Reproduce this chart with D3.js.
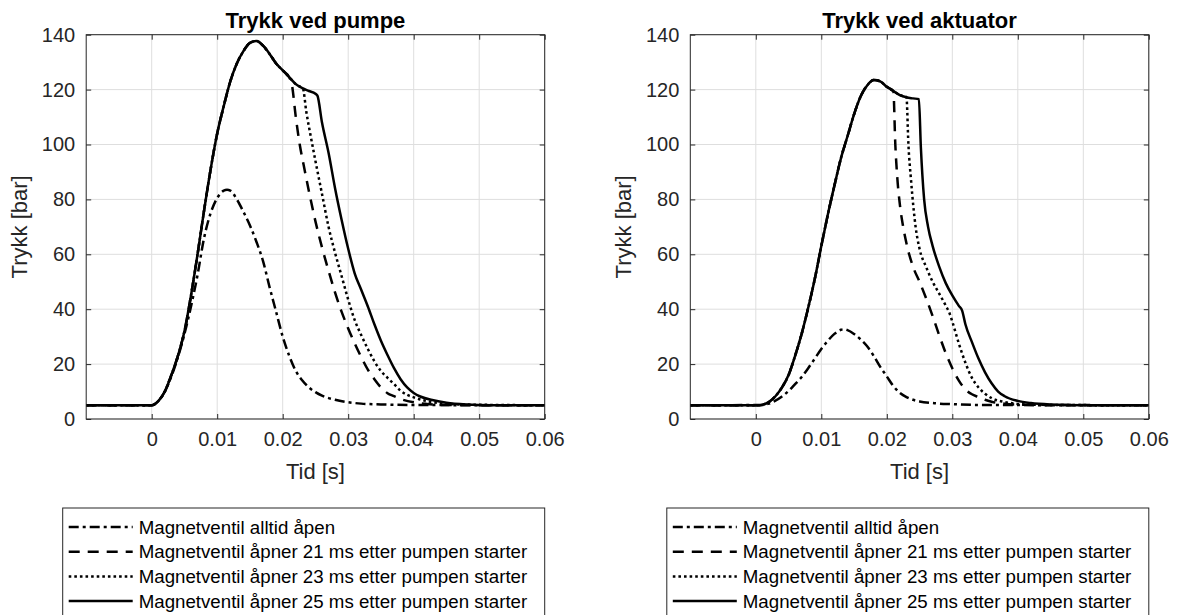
<!DOCTYPE html>
<html>
<head>
<meta charset="utf-8">
<script src="https://cdn.jsdelivr.net/npm/d3@7/dist/d3.min.js"></script>
<style>
  body { margin: 0; background: #fff; }
  svg { display: block; font-family: 'Liberation Sans', Arial, sans-serif; }
</style>
</head>
<body>
<div id="chart"></div>
<script>
// tid i ms, trykk i bar
const xTicks = [0, 0.01, 0.02, 0.03, 0.04, 0.05, 0.06];
const yTicks = [0, 20, 40, 60, 80, 100, 120, 140];
const seriesNames = [
    'Magnetventil alltid åpen',
    'Magnetventil åpner 21 ms etter pumpen starter',
    'Magnetventil åpner 23 ms etter pumpen starter',
    'Magnetventil åpner 25 ms etter pumpen starter'
];

// Trykk ved pumpe
const pumpeOpen = [[-10,5],[0,5],[1,6.5],[2,10],[3,15.5],[4,22.5],[5,31],[6,41],[7,52.5],[8,66],[9,75],[10,80.5],[11,83.2],[11.5,83.5],[12,83.2],[13,80],[14,75.5],[15,70.5],[16,64.5],[17,57.5],[18,48],[19,39],[20,30],[21,23],[22,17.5],[23,14],[24,11.5],[25,9.8],[26,8.5],[28,7],[30,6.1],[32,5.6],[35,5.3],[40,5.1],[60,5]];
const pumpeClosed = [[-10,5],[0,5],[1,6.5],[2,10],[3,16],[4,23],[5,32],[6,45],[7,60],[8,76],[9,91],[10,104],[11,114],[12,123],[13,129.5],[14,134],[15,137],[16,137.7],[17,136],[18,133],[19,129.5],[20,127],[21,124.5],[22,122],[23,120.5],[24,119.5],[25,118.5]];
const pumpeTail21 = [[21.4,121.8],[22,110],[22.6,100],[23.2,92.5],[24,83],[25,72],[26,62.5],[27,54],[28,46],[29,39],[30,33],[31,27.5],[32,22.5],[33,18],[34,14.5],[35,11.5],[36,9.4],[37,8.3],[38,7.3],[40,6.1],[42,5.5],[45,5.1],[60,5]];
const pumpeTail23 = [[23.1,120.3],[23.6,112],[24.2,104],[25,94],[26,82],[27,70],[28,60.5],[29,52],[30,43.5],[31,36],[32,30.5],[33,25.5],[34,21],[35,17.5],[36,15],[37,12.7],[38,10.3],[39,8.8],[40,7.9],[42,6.5],[44,5.8],[47,5.3],[60,5]];
const pumpeTail25 = [[25.3,117.8],[26,108],[27,97],[28,84],[29,72.5],[30,62],[31,53],[32,47],[33,41],[34,34.5],[35,28.5],[36,23.3],[37,18.5],[38,14.5],[39,11.5],[40,9.5],[41,8.2],[43,6.8],[45,5.9],[48,5.3],[52,5.05],[60,5]];

// Trykk ved aktuator
const aktuatorOpen = [[-10,5],[1,5.1],[2,5.6],[3,6.7],[4,8.2],[5,10.2],[6,12.7],[7,15.3],[8,18.5],[9,22],[10,25.5],[11,28.5],[12,31],[13,32.5],[13.5,32.7],[14,32.4],[15,31],[16,29],[17,26.5],[18,23],[19,19],[20,15.5],[21,12],[22,9.5],[23,8],[24,7],[25,6.4],[27,5.8],[30,5.4],[35,5.1],[60,5]];
const aktuatorClosed = [[-10,5],[0.5,5],[1,5.2],[2,6.2],[3,8.3],[4,11.5],[5,16],[6,23],[7,31],[8,40.5],[9,51],[10,63],[11,74.5],[12,85],[13,95],[14,103],[15,111],[16,117.5],[17,121.5],[18,123.5],[19,123],[20,121],[21,119.5],[22,118],[23,117.2],[24,116.8]];
const aktuatorTail21 = [[21,119.5],[21.3,100],[21.6,88],[22,78],[22.5,70],[23,64],[24,55.5],[25,50],[26,44],[27,37.5],[28,30.5],[29,24],[30,18.5],[31,14],[32,10.8],[33,9],[34,8],[35,7],[36,6.3],[38,5.6],[41,5.2],[60,5]];
const aktuatorTail23 = [[23,117.2],[23.3,100],[23.7,87],[24.4,70],[25,62],[26,55.4],[27,50],[28,45.7],[29,41.3],[29.6,38.4],[30,35.5],[31,27.5],[32,20.5],[33,15],[34,11.5],[35,9.2],[36,7.6],[38,6.2],[40,5.5],[43,5.15],[60,5]];
const aktuatorTail25 = [[24.9,116.5],[25.2,99],[25.7,80],[26.3,70],[27,63],[28,55.5],[29,49.5],[30,45],[31,41.2],[31.5,39.5],[32,34.5],[33,28],[34,22],[35,17],[36,13],[37,10],[38,8.3],[40,6.6],[42,5.8],[45,5.3],[50,5.05],[60,5]];

const dashPatterns = ['10,4,3,4', '11,8', '2.6,3', null];

function buildSeries(open, closed, tails) {
    const list = [open];
    tails.forEach(function(tail) {
        const start = tail[0][0];
        list.push(closed.filter(function(d) { return d[0] < start; }).concat(tail));
    });
    return list;
}

function pressureChart() {
    const margin = {
        top: 34.7,
        left: 86.2
    };
    const plotWidth = 458.5;
    const plotHeight = 384.3;
    const lineWidth = 2.5;
    const axisColor = '#262626';
    const gridColor = '#dedede';

    let title = '';
    let container;
    let data;
    let xScale;
    let yScale;

    function exports(_selection) {
        _selection.each(function(_data) {
            data = _data;
            container = d3.select(this)
              .append('g')
                .attr('transform', `translate(${margin.left}, ${margin.top})`);

            buildScales();
            drawGrid();
            drawLines();
            drawAxes();
            drawLabels();
            drawLegend();
        });
    }

    function buildScales() {
        xScale = d3.scaleLinear()
            .domain([-0.01, 0.06])
            .range([0, plotWidth]);

        yScale = d3.scaleLinear()
            .domain([0, 140])
            .range([plotHeight, 0]);
    }

    function drawGrid() {
        const grid = container.append('g').classed('grid', true);

        grid.selectAll('.vgrid')
            .data(xTicks)
          .enter().append('line')
            .attr('x1', function(d) { return xScale(d); })
            .attr('x2', function(d) { return xScale(d); })
            .attr('y1', 0)
            .attr('y2', plotHeight)
            .attr('stroke', gridColor);

        grid.selectAll('.hgrid')
            .data(yTicks)
          .enter().append('line')
            .attr('x1', 0)
            .attr('x2', plotWidth)
            .attr('y1', function(d) { return yScale(d); })
            .attr('y2', function(d) { return yScale(d); })
            .attr('stroke', gridColor);
    }

    function drawLines() {
        const line = d3.line()
            .x(function(d) { return xScale(d[0] / 1000); })
            .y(function(d) { return yScale(d[1]); })
            .curve(d3.curveMonotoneX);

        container.append('g')
            .classed('lines', true)
          .selectAll('path')
            .data(data)
          .enter().append('path')
            .attr('d', line)
            .attr('fill', 'none')
            .attr('stroke', '#000')
            .attr('stroke-width', lineWidth)
            .attr('stroke-dasharray', function(d, i) { return dashPatterns[i]; });
    }

    function styleAxis(g) {
        g.select('.domain').remove();
        g.selectAll('line').attr('stroke', axisColor);
        g.selectAll('text')
            .attr('fill', axisColor)
            .style('font-size', '20px');
    }

    function drawAxes() {
        container.append('g')
            .attr('transform', `translate(0, ${plotHeight})`)
            .call(d3.axisBottom(xScale).tickValues(xTicks).tickSize(-5).tickPadding(13)
                .tickFormat(function(d) { return String(d); }))
            .call(styleAxis);

        container.append('g')
            .call(d3.axisTop(xScale).tickValues(xTicks).tickSize(-5).tickFormat(''))
            .call(styleAxis);

        container.append('g')
            .call(d3.axisLeft(yScale).tickValues(yTicks).tickSize(-5).tickPadding(11))
            .call(styleAxis);

        container.append('g')
            .attr('transform', `translate(${plotWidth}, 0)`)
            .call(d3.axisRight(yScale).tickValues(yTicks).tickSize(-5).tickFormat(''))
            .call(styleAxis);

        container.append('rect')
            .attr('width', plotWidth)
            .attr('height', plotHeight)
            .attr('fill', 'none')
            .attr('stroke', axisColor)
            .attr('stroke-width', 1);
    }

    function drawLabels() {
        container.append('text')
            .attr('x', plotWidth / 2)
            .attr('y', -7)
            .attr('text-anchor', 'middle')
            .style('font-size', '22px')
            .style('font-weight', 'bold')
            .text(title);

        container.append('text')
            .attr('x', plotWidth / 2)
            .attr('y', plotHeight + 60)
            .attr('text-anchor', 'middle')
            .attr('fill', axisColor)
            .style('font-size', '22px')
            .text('Tid [s]');

        container.append('text')
            .attr('transform', `translate(-59, ${plotHeight / 2}) rotate(-90)`)
            .attr('text-anchor', 'middle')
            .attr('fill', axisColor)
            .style('font-size', '22px')
            .text('Trykk [bar]');
    }

    function drawLegend() {
        const legendWidth = 482;
        const rowHeight = 24.7;
        const legend = container.append('g')
            .attr('transform', `translate(${plotWidth - legendWidth}, ${plotHeight + 89})`);

        legend.append('rect')
            .attr('width', legendWidth)
            .attr('height', 130)
            .attr('fill', '#fff')
            .attr('stroke', axisColor)
            .attr('stroke-width', 1);

        const rows = legend.selectAll('.row')
            .data(seriesNames)
          .enter().append('g')
            .attr('transform', function(d, i) { return `translate(0, ${19 + i * rowHeight})`; });

        rows.append('line')
            .attr('x1', 6)
            .attr('x2', 70)
            .attr('stroke', '#000')
            .attr('stroke-width', lineWidth)
            .attr('stroke-dasharray', function(d, i) { return dashPatterns[i]; });

        rows.append('text')
            .attr('x', 76)
            .attr('dy', '0.35em')
            .style('font-size', '18.7px')
            .text(function(d) { return d; });
    }

    exports.title = function(_x) {
        title = _x;
        return exports;
    };

    return exports;
}

const svg = d3.select('#chart')
  .append('svg')
    .attr('width', 1178)
    .attr('height', 615);

svg.append('g')
    .datum(buildSeries(pumpeOpen, pumpeClosed, [pumpeTail21, pumpeTail23, pumpeTail25]))
    .call(pressureChart().title('Trykk ved pumpe'));

svg.append('g')
    .attr('transform', 'translate(604.1, 0)')
    .datum(buildSeries(aktuatorOpen, aktuatorClosed, [aktuatorTail21, aktuatorTail23, aktuatorTail25]))
    .call(pressureChart().title('Trykk ved aktuator'));
</script>
</body>
</html>
